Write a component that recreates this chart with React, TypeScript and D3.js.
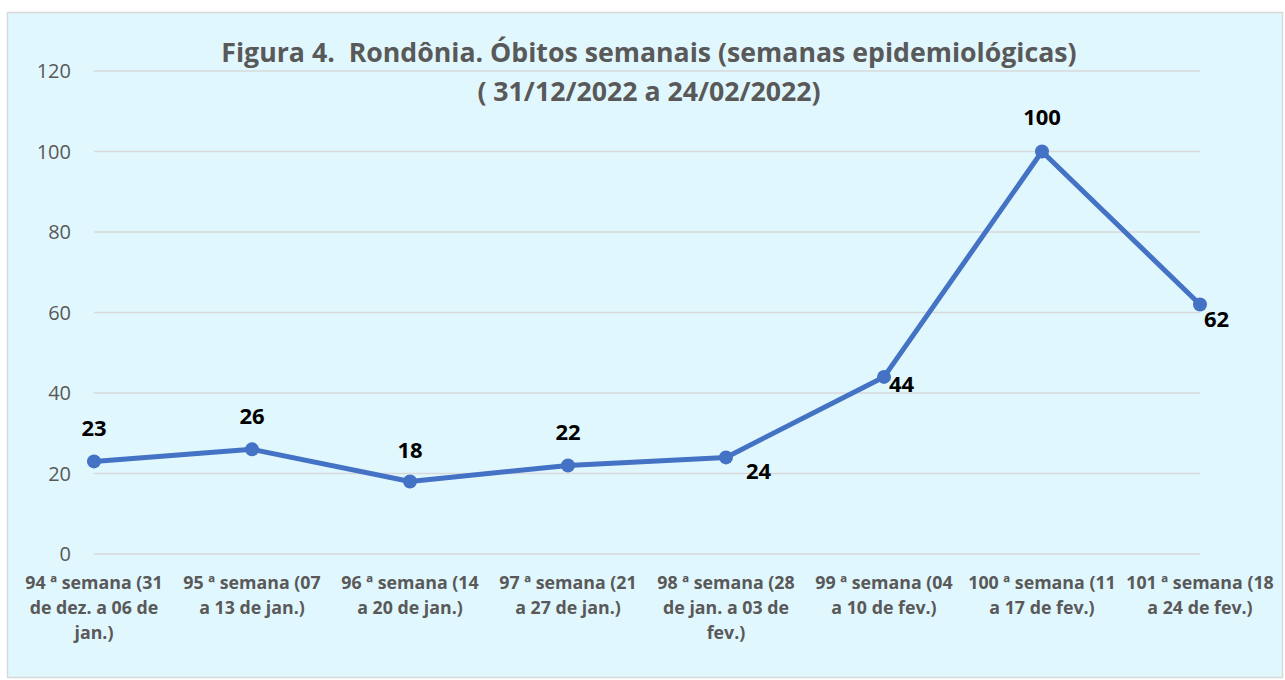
import React from "react";
import * as d3 from "d3";

const categories: string[][] = [
  ["94 ª semana (31", "de dez. a 06 de", "jan.)"],
  ["95 ª semana (07", "a 13 de jan.)"],
  ["96 ª semana (14", "a 20 de jan.)"],
  ["97 ª semana (21", "a 27 de jan.)"],
  ["98 ª semana (28", "de jan. a 03 de", "fev.)"],
  ["99 ª semana (04", "a 10 de fev.)"],
  ["100 ª semana (11", "a 17 de fev.)"],
  ["101 ª semana (18", "a 24 de fev.)"],
];
const values: number[] = [23, 26, 18, 22, 24, 44, 100, 62];
const yTicks: number[] = [0, 20, 40, 60, 80, 100, 120];
const titleLines: string[] = [
  "Figura 4.  Rondônia. Óbitos semanais (semanas epidemiológicas)",
  "( 31/12/2022 a 24/02/2022)",
];

// label placement (style): "above" centered, or "right" with small offsets
const labelStyle: { anchor: string; dx: number; dy: number }[] = [
  { anchor: "middle", dx: 0, dy: -25 },
  { anchor: "middle", dx: 0, dy: -25 },
  { anchor: "middle", dx: 0, dy: -24 },
  { anchor: "middle", dx: 0, dy: -25 },
  { anchor: "start", dx: 20, dy: 22 },
  { anchor: "start", dx: 5, dy: 15 },
  { anchor: "middle", dx: 0, dy: -27 },
  { anchor: "start", dx: 4, dy: 23 },
];

export default function App() {
  const W = 1285, H = 680;
  const x = d3.scalePoint<number>().domain(d3.range(values.length)).range([94, 1200]);
  const y = d3.scaleLinear().domain([0, 120]).range([554, 71]);
  const line = d3.line<number>().x((_, i) => x(i)!).y((d) => y(d));
  const font = "'Open Sans', Lato, sans-serif";
  return (
    <svg width={W} height={H} style={{ position: "absolute", left: 0, top: 0 }}>
      <rect x={7.5} y={12.5} width={1275} height={665} fill="#E1F7FE" stroke="#D9D9D9" strokeWidth={1.5} />
      {yTicks.map((t) => (
        <g key={t}>
          <line x1={94} x2={1200} y1={y(t)} y2={y(t)} stroke="#D9D9D9" strokeWidth={1.5} />
          <text x={71} y={y(t)} dy="0.35em" textAnchor="end" fontFamily={font} fontSize={20} fill="#595959">{t}</text>
        </g>
      ))}
      {titleLines.map((t, i) => (
        <text key={i} x={649} y={62 + i * 39} textAnchor="middle" fontFamily={font} fontWeight="bold" fontSize={26.7} fill="#595959" style={{ whiteSpace: "pre" }}>{t}</text>
      ))}
      <path d={line(values) ?? ""} fill="none" stroke="#4472C4" strokeWidth={5} strokeLinejoin="round" strokeLinecap="round" />
      {values.map((v, i) => (
        <circle key={i} cx={x(i)!} cy={y(v)} r={7} fill="#4472C4" />
      ))}
      {values.map((v, i) => (
        <text key={i} x={x(i)! + labelStyle[i].dx} y={y(v) + labelStyle[i].dy} textAnchor={labelStyle[i].anchor} fontFamily={font} fontWeight="bold" fontSize={22} fill="#000">{v}</text>
      ))}
      {categories.map((lines, i) => (
        <text key={i} x={x(i)!} y={589} textAnchor="middle" fontFamily={font} fontWeight="bold" fontSize={17.8} fill="#595959">
          {lines.map((l, j) => (
            <tspan key={j} x={x(i)!} dy={j === 0 ? 0 : 25}>{l}</tspan>
          ))}
        </text>
      ))}
    </svg>
  );
}
